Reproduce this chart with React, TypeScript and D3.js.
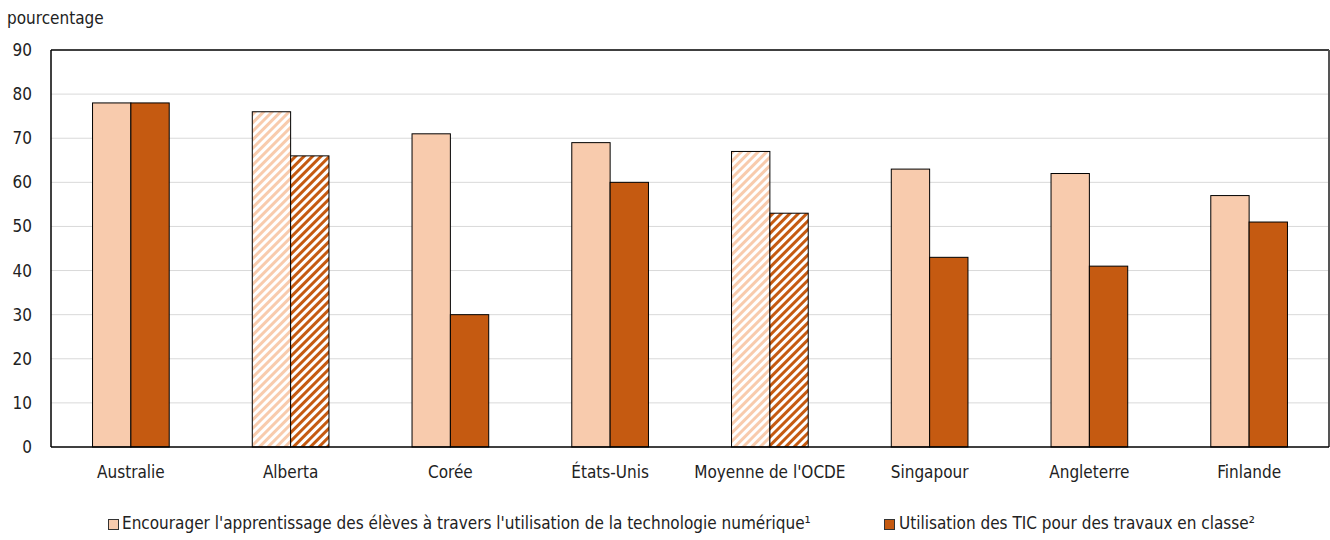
import React from "react";
import * as d3 from "d3";

const categories = ["Australie", "Alberta", "Corée", "États-Unis", "Moyenne de l'OCDE", "Singapour", "Angleterre", "Finlande"];
const encourager = [78, 76, 71, 69, 67, 63, 62, 57];
const utilisation = [78, 66, 30, 60, 53, 43, 41, 51];
const hatched = [false, true, false, false, true, false, false, false];
const yTicks = [0, 10, 20, 30, 40, 50, 60, 70, 80, 90];
const seriesNames = [
  "Encourager l'apprentissage des élèves à travers l'utilisation de la technologie numérique¹",
  "Utilisation des TIC pour des travaux en classe²",
];

const W = 1330, H = 540;
const m = { left: 51, right: 1329, top: 50, bottom: 447 };
const LIGHT = "#F8CBAD";
const DARK = "#C55A11";
const FONT = "'Liberation Sans Narrow', 'DejaVu Sans Condensed', 'Roboto', sans-serif";

export default function App() {
  const x = d3.scaleBand<string>().domain(categories).range([m.left, m.right]).paddingInner(0.52).paddingOuter(0.26);
  const y = d3.scaleLinear().domain([0, 90]).range([m.bottom, m.top]);
  const bw = x.bandwidth() / 2;

  return (
    <div style={{ position: "absolute", left: 0, top: 0 }}>
      <svg width={W} height={H} style={{ display: "block", fontFamily: FONT }}>
        <defs>
          <pattern id="hLight" patternUnits="userSpaceOnUse" width="6" height="6" patternTransform="rotate(45)">
            <rect width="6" height="6" fill="#fff" />
            <rect width="3" height="6" fill={LIGHT} />
          </pattern>
          <pattern id="hDark" patternUnits="userSpaceOnUse" width="6" height="6" patternTransform="rotate(45)">
            <rect width="6" height="6" fill="#fff" />
            <rect width="3" height="6" fill={DARK} />
          </pattern>
        </defs>
        <rect width={W} height={H} fill="#fff" />
        <text x={7} y={24} fontSize={17} fill="#222">pourcentage</text>
        {yTicks.map((t) => (
          <g key={t}>
            {t > 0 && t < 90 && (
              <line x1={m.left} x2={m.right} y1={y(t)} y2={y(t)} stroke="#d9d9d9" strokeWidth={1} />
            )}
            <text x={32} y={y(t)} dy="0.35em" textAnchor="end" fontSize={17} fill="#222">{t}</text>
          </g>
        ))}
        {categories.map((c, i) => {
          const x0 = x(c)!;
          return (
            <g key={c}>
              <rect x={x0} y={y(encourager[i])} width={bw} height={y(0) - y(encourager[i])}
                fill={hatched[i] ? "url(#hLight)" : LIGHT} stroke="#000" strokeWidth={1} />
              <rect x={x0 + bw} y={y(utilisation[i])} width={bw} height={y(0) - y(utilisation[i])}
                fill={hatched[i] ? "url(#hDark)" : DARK} stroke="#000" strokeWidth={1} />
              <text x={x0 + bw} y={478} textAnchor="middle" fontSize={17} fill="#222">{c}</text>
            </g>
          );
        })}
        <line x1={m.left} x2={m.right} y1={m.top} y2={m.top} stroke="#000" strokeWidth={1.5} />
        <line x1={m.right} x2={m.right} y1={m.top} y2={m.bottom} stroke="#555" strokeWidth={2} />
        <line x1={m.left} x2={m.left} y1={m.top} y2={m.bottom} stroke="#000" strokeWidth={1.5} />
        <line x1={m.left} x2={m.right} y1={m.bottom} y2={m.bottom} stroke="#000" strokeWidth={1.5} />
        <g>
          <rect x={108.5} y={519.5} width={10} height={10} fill={LIGHT} stroke="#333" />
          <text x={122} y={529} fontSize={17} fill="#222">{seriesNames[0]}</text>
          <rect x={884.5} y={519.5} width={10} height={10} fill={DARK} stroke="#333" />
          <text x={899} y={529} fontSize={17} fill="#222">{seriesNames[1]}</text>
        </g>
      </svg>
    </div>
  );
}
